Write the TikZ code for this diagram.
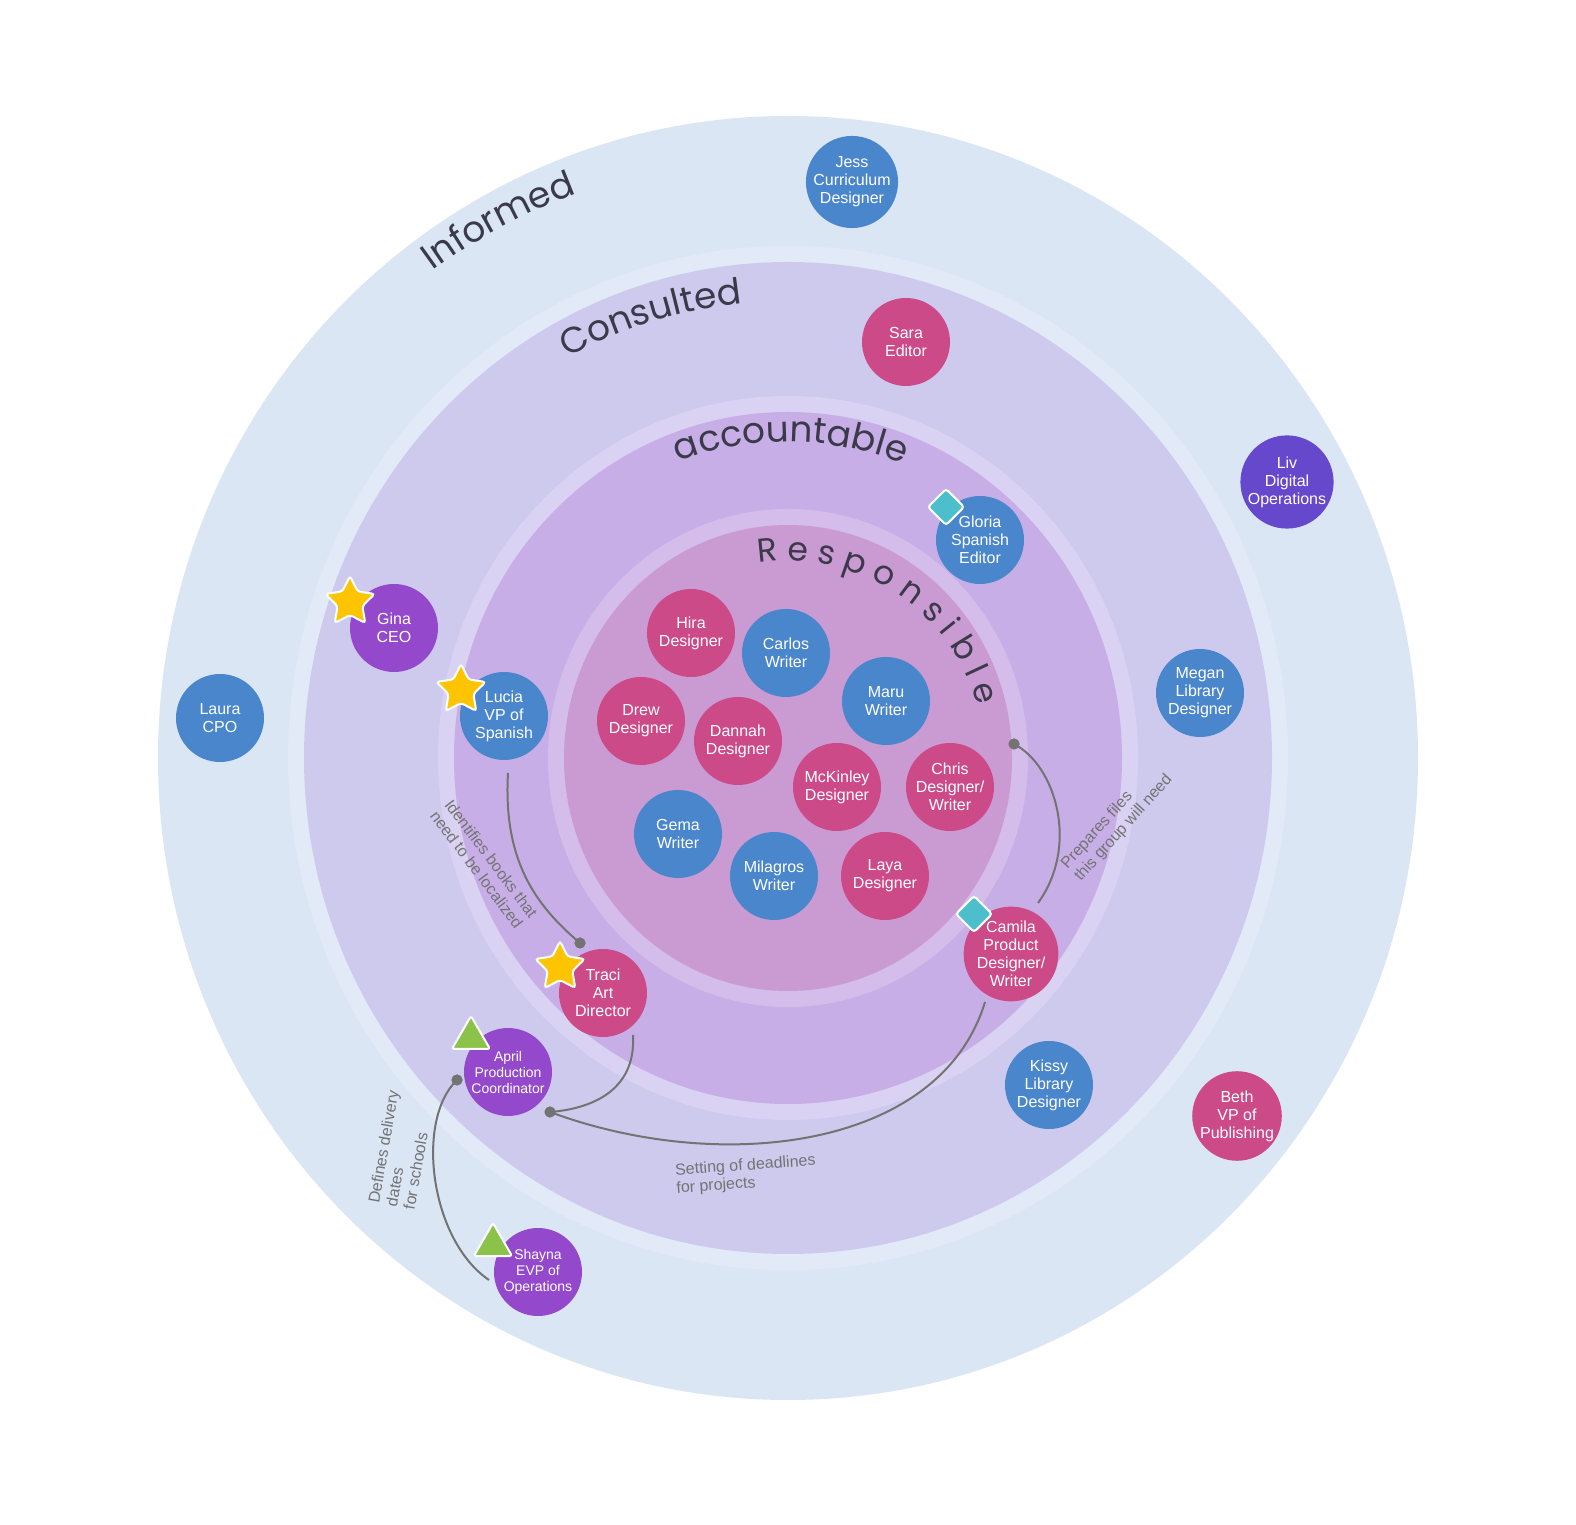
\documentclass[tikz,border=0pt]{standalone}
\usepackage{fontspec}
\setmainfont{Liberation Sans}
\newfontfamily\ringfont{Poppins}
\usetikzlibrary{decorations.text,shapes.geometric}
\definecolor{informed}{HTML}{DBE6F5}
\definecolor{ringA}{HTML}{E2EAF7}
\definecolor{consulted}{HTML}{CECAEE}
\definecolor{ringB}{HTML}{D9D2F2}
\definecolor{accountable}{HTML}{C8AEE7}
\definecolor{ringC}{HTML}{D4BDEB}
\definecolor{responsible}{HTML}{CA9AD3}
\definecolor{ringtext}{HTML}{3B3A4A}
\definecolor{pblue}{HTML}{4A86CC}
\definecolor{ppink}{HTML}{CC4A88}
\definecolor{ppurple}{HTML}{9449CC}
\definecolor{pviolet}{HTML}{6548CC}
\definecolor{starY}{HTML}{FFC400}
\definecolor{triG}{HTML}{8BC34A}
\definecolor{diaT}{HTML}{4DBFCC}
\definecolor{linkgray}{HTML}{737373}
\begin{document}
\begin{tikzpicture}[x=1pt,y=1pt,
  person/.style={circle, minimum size=88pt, inner sep=0pt, text=white, align=center, font=\fontsize{16}{18}\selectfont},
  smalltext/.style={font=\fontsize{14}{16}\selectfont},
  staricon/.style={star, star points=5, star point ratio=2.0, minimum size=52pt, inner sep=0pt, fill=starY, draw=white, line width=2pt, rounded corners=3pt},
  diaicon/.style={diamond, minimum width=37pt, minimum height=37pt, inner sep=0pt, fill=diaT, draw=white, line width=2pt, rounded corners=3pt},
  triicon/.style={regular polygon, regular polygon sides=3, minimum size=44pt, inner sep=0pt, fill=triG, draw=white, line width=2pt, rounded corners=2.5pt},
  link/.style={draw=linkgray, line width=2pt},
  dotnode/.style={circle, fill=linkgray, minimum size=11pt, inner sep=0pt},
  linklabel/.style={text=linkgray, align=left, font=\fontsize{16}{18}\selectfont, inner sep=0pt},
  ringlabel/.style={decorate, decoration={text along path, text align=center, text color=ringtext}}
]
\fill[white] (0,0) rectangle (1576,1524);
\useasboundingbox (0,0) rectangle (1576,1524);
\coordinate (C) at (788,766);
% rings
\fill[informed] (C) ellipse[x radius=630, y radius=642];
\fill[ringA] (C) ellipse[x radius=500, y radius=512];
\fill[consulted] (C) ellipse[x radius=484, y radius=496];
\fill[ringB] (C) ellipse[x radius=350, y radius=362];
\fill[accountable] (C) ellipse[x radius=334, y radius=346];
\fill[ringC] (C) ellipse[x radius=240, y radius=249];
\fill[responsible] (C) ellipse[x radius=224, y radius=233];
% ring titles
\path[ringlabel, decoration={text={|\ringfont\fontsize{36}{36}\selectfont|Informed}}]
  (C) ++(159.3:603) arc[start angle=159.3, end angle=77.3, radius=603];
\path[ringlabel, decoration={text={|\ringfont\fontsize{36}{36}\selectfont|Consulted}}]
  (C) ++(149.3:457) arc[start angle=149.3, end angle=65.3, radius=457];
\path[ringlabel, decoration={text={|\ringfont\fontsize{36}{36}\selectfont|accountable}}]
  (C) ++(140:316) arc[start angle=140, end angle=39, radius=316];
\path[ringlabel, decoration={text={|\ringfont\fontsize{33}{33}\selectfont|R e s p o n s i b l e}}]
  (C) ++(118:197) arc[start angle=118, end angle=-4, radius=197];
% people
\node[person, fill=pblue] (jess) at (852,1342) {Jess\\Curriculum\\Designer};
\node[person, fill=ppink] (sara) at (906,1182) {Sara\\Editor};
\node[person, fill=pviolet] (liv) at (1287,1042) {Liv\\Digital\\Operations};
\node[person, fill=pblue] (megan) at (1200,831) {Megan\\Library\\Designer};
\node[person, fill=pblue] (laura) at (220,806) {Laura\\CPO};
\node[person, fill=ppurple] (gina) at (394,896) {Gina\\CEO};
\node[person, fill=pblue] (lucia) at (504,808) {Lucia\\VP of\\Spanish};
\node[person, fill=pblue] (gloria) at (980,984) {Gloria\\Spanish\\Editor};
\node[person, fill=ppink] (hira) at (691,891) {Hira\\Designer};
\node[person, fill=pblue] (carlos) at (786,871) {Carlos\\Writer};
\node[person, fill=pblue] (maru) at (886,823) {Maru\\Writer};
\node[person, fill=ppink] (drew) at (641,803) {Drew\\Designer};
\node[person, fill=ppink] (dannah) at (738,783) {Dannah\\Designer};
\node[person, fill=ppink] (mckinley) at (837,737) {McKinley\\Designer};
\node[person, fill=ppink] (chris) at (950,737) {Chris\\Designer/\\Writer};
\node[person, fill=pblue] (gema) at (678,690) {Gema\\Writer};
\node[person, fill=pblue] (milagros) at (774,648) {Milagros\\Writer};
\node[person, fill=ppink] (laya) at (885,648) {Laya\\Designer};
\node[person, fill=ppink] (camila) at (1011,570) {Camila\\Product\\Designer/\\Writer};
\node[person, fill=ppink] (traci) at (603,531) {Traci\\Art\\Director};
\node[person, smalltext, fill=ppurple] (april) at (508,452) {April\\Production\\Coordinator};
\node[person, fill=pblue] (kissy) at (1049,439) {Kissy\\Library\\Designer};
\node[person, fill=ppink] (beth) at (1237,408) {Beth\\VP of\\Publishing};
\node[person, smalltext, fill=ppurple] (shayna) at (538,252) {Shayna\\EVP of\\Operations};
% icons
\node[staricon] (ginastar) at (350,922) {};
\node[staricon] (luciastar) at (461,834) {};
\node[staricon] (tracistar) at (560,557) {};
\node[diaicon] (gloriadia) at (946,1017) {};
\node[diaicon] (camiladia) at (974,610) {};
\node[triicon] (apriltri) at (471,486) {};
\node[triicon] (shaynatri) at (493,279) {};
% connectors
\coordinate (s1) at (508,751);
\coordinate (e2) at (1038,621);
\coordinate (s3) at (633,489);
\coordinate (s4) at (985,522);
\coordinate (s5) at (489,244);
\node[dotnode] (d1) at (580,581) {};
\node[dotnode] (d2) at (1014,780) {};
\node[dotnode] (d3) at (550,412) {};
\node[dotnode] (d5) at (457,444) {};
\draw[link] (s1) .. controls (503,664) and (535,619) .. (d1.center);
\draw[link] (d2.center) .. controls (1055,759) and (1080,679) .. (e2);
\draw[link] (s3) .. controls (636,439) and (600,416) .. (d3.center);
\draw[link] (s4) .. controls (940,374) and (720,349) .. (d3.center);
\draw[link] (s5) .. controls (430,284) and (415,404) .. (d5.center);
\node[dotnode] at (d1) {};
\node[dotnode] at (d2) {};
\node[dotnode] at (d3) {};
\node[dotnode] at (d5) {};
% connector labels
\node[linklabel, rotate=-53] (lab1) at (484,660) {Identifies books that\\need to be localized};
\node[linklabel, rotate=48] (lab2) at (1117,702) {Prepares files\\this group will need};
\node[linklabel, rotate=4] (lab3) at (746,349) {Setting of deadlines\\for projects};
\node[linklabel, rotate=80] (lab4) at (401,374) {Defines delivery\\dates\\for schools};
\end{tikzpicture}
\end{document}
